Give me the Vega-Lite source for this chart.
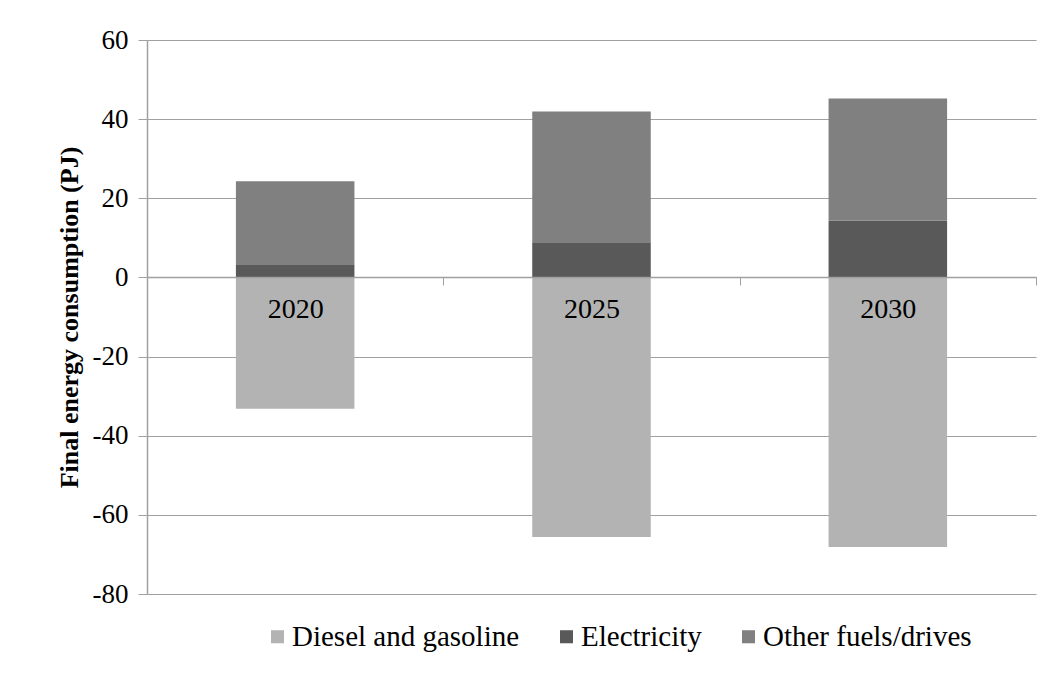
{
  "$schema": "https://vega.github.io/schema/vega-lite/v6.json",
  "autosize": {"type": "none"},
  "width": 889,
  "height": 554,
  "padding": {"left": 147, "top": 40, "right": 18, "bottom": 88},
  "background": "white",
  "config": {
    "view": {"stroke": null}
  },
  "data": {
    "values": [
      {"year": "2020", "fuel": "Diesel and gasoline", "value": -33.2, "ord": 0},
      {"year": "2020", "fuel": "Electricity", "value": 3.3, "ord": 1},
      {"year": "2020", "fuel": "Other fuels/drives", "value": 21.0, "ord": 2},
      {"year": "2025", "fuel": "Diesel and gasoline", "value": -65.6, "ord": 0},
      {"year": "2025", "fuel": "Electricity", "value": 8.9, "ord": 1},
      {"year": "2025", "fuel": "Other fuels/drives", "value": 33.0, "ord": 2},
      {"year": "2030", "fuel": "Diesel and gasoline", "value": -68.1, "ord": 0},
      {"year": "2030", "fuel": "Electricity", "value": 14.4, "ord": 1},
      {"year": "2030", "fuel": "Other fuels/drives", "value": 30.8, "ord": 2}
    ]
  },
  "mark": {"type": "bar", "width": {"band": 0.4}},
  "encoding": {
    "x": {
      "field": "year",
      "type": "nominal",
      "scale": {"paddingInner": 0, "paddingOuter": 0},
      "axis": {
        "title": null,
        "orient": "bottom",
        "offset": -317,
        "labelAngle": 0,
        "labelFont": "Liberation Serif",
        "labelFontWeight": 400,
        "labelFontSize": 28,
        "labelColor": "black",
        "labelPadding": 10,
        "tickBand": "extent",
        "tickSize": 8,
        "tickColor": "#a0a0a0",
        "domainColor": "#a0a0a0",
        "domainWidth": 1.5,
        "zindex": 1
      }
    },
    "y": {
      "field": "value",
      "type": "quantitative",
      "stack": "zero",
      "scale": {"domain": [-80, 60], "nice": false},
      "axis": {
        "title": "Final energy consumption (PJ)",
        "titleFont": "Liberation Serif",
        "titleFontSize": 26,
        "titleFontWeight": "bold",
        "titleColor": "black",
        "titlePadding": 10,
        "values": [-80, -60, -40, -20, 0, 20, 40, 60],
        "labelExpr": "'' + datum.value",
        "labelFont": "Liberation Serif",
        "labelFontWeight": 400,
        "labelFontSize": 27,
        "labelColor": "black",
        "labelPadding": 10,
        "tickSize": 9,
        "tickColor": "#a0a0a0",
        "domainColor": "#a0a0a0",
        "domainWidth": 1.5,
        "gridColor": "#a0a0a0",
        "gridWidth": 1.2
      }
    },
    "color": {
      "field": "fuel",
      "type": "nominal",
      "scale": {
        "domain": ["Diesel and gasoline", "Electricity", "Other fuels/drives"],
        "range": ["#b3b3b3", "#595959", "#808080"]
      },
      "legend": {
        "title": null,
        "orient": "none",
        "legendX": 116,
        "legendY": 582,
        "direction": "horizontal",
        "symbolType": "square",
        "symbolSize": 170,
        "symbolStrokeWidth": 0,
        "labelFont": "Liberation Serif",
        "labelFontWeight": 400,
        "labelFontSize": 29,
        "labelLimit": 400,
        "labelColor": "black",
        "labelOffset": 0,
        "columnPadding": 32
      }
    },
    "order": {"field": "ord", "type": "quantitative"}
  }
}
